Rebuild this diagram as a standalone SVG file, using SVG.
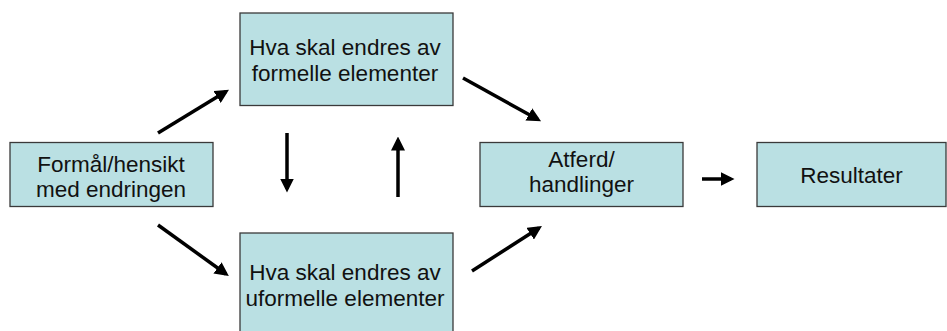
<svg xmlns="http://www.w3.org/2000/svg" width="947" height="331" viewBox="0 0 947 331">
<defs>
<style>
.box{fill:#BAE0E3;stroke:#3a3a3a;stroke-width:1.3}
.t{font-family:"Liberation Sans",Arial,sans-serif;font-size:22.5px;fill:#111;text-anchor:middle}
.c{stroke:#000;stroke-width:3.5;fill:none;marker-end:url(#ah)}
</style>
<marker id="ah" markerWidth="4" markerHeight="4" refX="3" refY="2" orient="auto" markerUnits="strokeWidth">
<path d="M0,0 L4,2 L0,4 Z" fill="#000"/>
</marker>
</defs>
<rect width="947" height="331" fill="#fff"/>
<g id="node-formal">
<rect class="box" x="10" y="142.5" width="203" height="64"/>
<text class="t" x="111" y="172">Formål/hensikt</text>
<text class="t" x="111" y="197">med endringen</text>
</g>
<g id="node-formelle">
<rect class="box" x="240" y="13" width="213" height="92.5"/>
<text class="t" x="345" y="55">Hva skal endres av</text>
<text class="t" x="345" y="81">formelle elementer</text>
</g>
<g id="node-uformelle">
<rect class="box" x="240" y="233" width="213" height="105"/>
<text class="t" x="345" y="280">Hva skal endres av</text>
<text class="t" x="345" y="306">uformelle elementer</text>
</g>
<g id="node-atferd">
<rect class="box" x="480" y="142.5" width="203" height="64"/>
<text class="t" x="581.5" y="167">Atferd/</text>
<text class="t" x="581.5" y="192">handlinger</text>
</g>
<g id="node-resultater">
<rect class="box" x="757" y="142.5" width="189" height="64"/>
<text class="t" x="851.5" y="183">Resultater</text>
</g>
<g id="connectors">
<line class="c" x1="158" y1="133" x2="226" y2="91.5"/>
<line class="c" x1="158" y1="225" x2="226" y2="274"/>
<line class="c" x1="287" y1="133" x2="287" y2="189"/>
<line class="c" x1="398" y1="197" x2="398" y2="140"/>
<line class="c" x1="463" y1="78" x2="538" y2="119.5"/>
<line class="c" x1="472" y1="271" x2="539" y2="228"/>
<line class="c" x1="702" y1="179" x2="731" y2="179"/>
</g>
</svg>
